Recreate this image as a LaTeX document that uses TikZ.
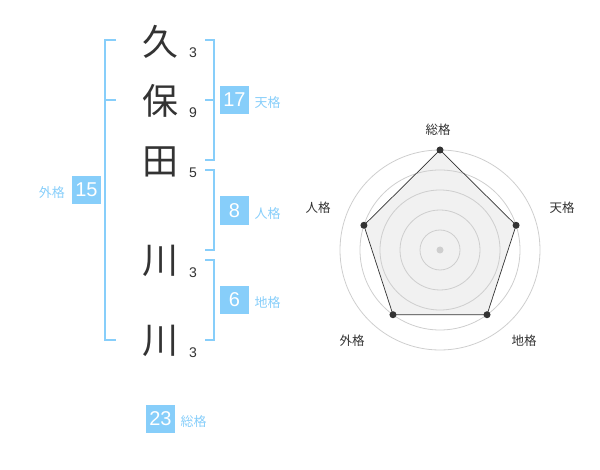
\documentclass[tikz,border=0pt]{standalone}
\usepackage{fontspec}
\setmainfont{Liberation Sans}
\newfontfamily\jpfont{Noto Sans CJK JP}
\usetikzlibrary{positioning}
\definecolor{kakusky}{RGB}{135,206,250}
\definecolor{inkdark}{RGB}{51,51,51}
\definecolor{ringgray}{RGB}{206,206,206}
\definecolor{fillgray}{RGB}{241,241,241}
\tikzset{
  kanji/.style={font=\jpfont\fontsize{36}{36}\selectfont, text=inkdark, inner sep=0pt},
  strokes/.style={font=\fontsize{14}{14}\selectfont, text=inkdark, inner sep=0pt},
  kakubox/.style={fill=kakusky, text=white, minimum size=28.5pt, inner sep=0pt, font=\fontsize{20}{20}\selectfont},
  kakulabel/.style={text=kakusky, inner sep=0pt, font=\jpfont\fontsize{13}{13}\selectfont},
  bracket/.style={draw=kakusky, line width=2pt},
  radarlabel/.style={text=inkdark, inner sep=0pt, font=\jpfont\fontsize{12.5}{12.5}\selectfont},
  ring/.style={draw=ringgray, line width=0.8pt},
  vertex/.style={circle, fill=inkdark, inner sep=0pt, minimum size=7pt},
}

\begin{document}
\begin{tikzpicture}[x=1pt, y=-1pt]
    \useasboundingbox (0,0) rectangle (600,470);

    % The name, one character per line
    \node[kanji] (ku) at (160,42) {久};
    \node[kanji] (ho) at (160,101) {保};
    \node[kanji] (ta) at (160,162) {田};
    \node[kanji] (kawa1) at (160,261) {川};
    \node[kanji] (kawa2) at (160,341) {川};

    % Stroke counts
    \node[strokes] (n-ku) at (193,53) {3};
    \node[strokes] (n-ho) at (193,113) {9};
    \node[strokes] (n-ta) at (193,173) {5};
    \node[strokes] (n-kawa1) at (193,273) {3};
    \node[strokes] (n-kawa2) at (193,353) {3};

    % Brackets
    \draw[bracket] (116,40) -- (105,40) -- (105,340) -- (116,340);
    \draw[bracket] (105,100) -- (116,100);
    \draw[bracket] (205,40) -- (214,40) -- (214,160) -- (205,160);
    \draw[bracket] (214,100) -- (205,100);
    \draw[bracket] (205,170) -- (214,170) -- (214,250) -- (205,250);
    \draw[bracket] (205,260) -- (214,260) -- (214,340) -- (205,340);

    % Scores
    \node[kakubox] (gaikaku) at (86.5,190) {15};
    \node[kakubox] (tenkaku) at (234.5,100) {17};
    \node[kakubox] (jinkaku) at (234.5,210.5) {8};
    \node[kakubox] (chikaku) at (234.5,300) {6};
    \node[kakubox] (soukaku) at (160.5,419) {23};
    \node[kakulabel, left=7pt of gaikaku, yshift=-3pt] (l-gai) {外格};
    \node[kakulabel, right=5.5pt of tenkaku, yshift=-3pt] (l-ten) {天格};
    \node[kakulabel, right=5.5pt of jinkaku, yshift=-3pt] (l-jin) {人格};
    \node[kakulabel, right=5.5pt of chikaku, yshift=-3pt] (l-chi) {地格};
    \node[kakulabel, right=5.5pt of soukaku, yshift=-3pt] (l-sou) {総格};

    % Radar chart
    \begin{scope}[shift={(440,250)}, x=1pt, y=1pt]
        \coordinate (p-sou) at (90:100);
        \coordinate (p-ten) at (18:80);
        \coordinate (p-chi) at (-54:80);
        \coordinate (p-gai) at (-126:80);
        \coordinate (p-jin) at (162:80);
        \fill[fillgray] (p-sou) -- (p-ten) -- (p-chi) -- (p-gai) -- (p-jin) -- cycle;
        \foreach \r in {20,40,...,100}
            \draw[ring] (0,0) circle (\r);
        \draw[inkdark, line width=0.7pt] (p-sou) -- (p-ten) -- (p-chi) -- (p-gai) -- (p-jin) -- cycle;
        \foreach \p in {sou,ten,chi,gai,jin}
            \node[vertex] (v-\p) at (p-\p) {};
        \node[circle, fill=ringgray, inner sep=0pt, minimum size=7pt] (hub) at (0,0) {};
    \end{scope}
    \node[radarlabel] (r-sou) at (438,130) {総格};
    \node[radarlabel] (r-ten) at (562,208) {天格};
    \node[radarlabel] (r-chi) at (524,341) {地格};
    \node[radarlabel] (r-gai) at (352,341) {外格};
    \node[radarlabel] (r-jin) at (318,208) {人格};
\end{tikzpicture}
\end{document}
